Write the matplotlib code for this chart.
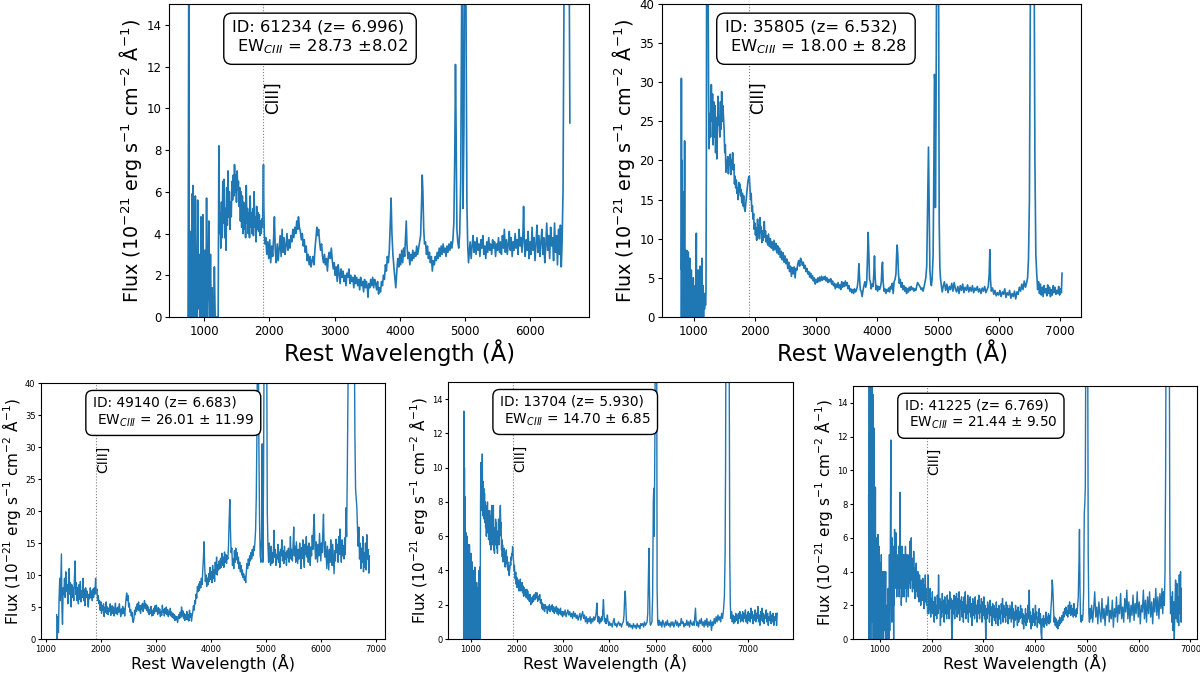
import matplotlib
matplotlib.use('Agg')
import matplotlib.pyplot as plt
import numpy as np

# spectra: (rest wavelength [A], flux [1e-21 erg/s/cm2/A])
spec_61234 = [
    (752, 0.0), (758, 9.7), (763, 16), (768, 4.4), (775, 0.0), (782, 4.1), (790, 0.0), (798, 3.8),
    (806, 0.5), (814, 5.9), (822, 0.0), (830, 6.3), (838, 1.0), (846, 4.0), (855, 0.0), (864, 5.8),
    (873, 2.3), (882, 3.2), (891, 0.0), (900, 5.6), (910, 0.4), (920, 3.0), (930, 0.0), (940, 0.0),
    (950, 4.8), (960, 0.0), (970, 2.0), (980, 4.9), (990, 0.0), (1000, 0.0), (1012, 3.2), (1024, 0.0),
    (1036, 5.7), (1048, 0.0), (1060, 1.5), (1072, 4.6), (1084, 0.0), (1096, 3.0), (1108, 0.0), (1120, 1.4),
    (1132, 0.0), (1144, 0.0), (1156, 2.4), (1168, 0.0), (1180, 0.0), (1192, 0.0), (1204, 0.0), (1214, 0.0),
    (1225, 8.2), (1235, 4.0), (1245, 5.0), (1255, 3.3), (1265, 5.5), (1275, 3.8), (1285, 6.5), (1295, 4.5),
    (1305, 6.6), (1315, 3.8), (1325, 5.2), (1335, 3.2), (1345, 6.2), (1355, 4.4), (1365, 7.0), (1375, 4.8),
    (1385, 6.0), (1395, 4.2), (1405, 5.5), (1415, 4.8), (1425, 6.5), (1435, 5.6), (1445, 6.8), (1455, 5.8),
    (1465, 7.3), (1475, 6.0), (1485, 6.8), (1495, 5.5), (1505, 7.0), (1515, 6.1), (1525, 6.5), (1535, 5.3),
    (1545, 6.2), (1555, 4.6), (1565, 6.0), (1575, 4.3), (1585, 5.8), (1595, 4.0), (1605, 5.5), (1615, 4.2),
    (1625, 5.3), (1635, 3.8), (1645, 6.3), (1655, 4.5), (1665, 5.2), (1675, 4.0), (1685, 5.0), (1695, 3.8),
    (1705, 5.8), (1715, 4.3), (1725, 5.0), (1735, 4.0), (1745, 5.2), (1755, 3.9), (1765, 6.0), (1775, 4.3),
    (1785, 4.8), (1795, 3.6), (1805, 5.3), (1815, 4.2), (1825, 5.0), (1835, 4.1), (1845, 4.9), (1855, 3.9),
    (1865, 4.6), (1875, 4.0), (1885, 4.7), (1895, 4.3), (1903, 5.8), (1909, 7.3), (1915, 5.2), (1922, 4.0),
    (1930, 3.5), (1945, 3.8), (1960, 3.0), (1975, 3.6), (1990, 2.8), (2005, 3.7), (2020, 2.6), (2035, 3.4),
    (2050, 2.9), (2065, 3.8), (2077, 4.8), (2090, 3.2), (2105, 2.6), (2120, 3.5), (2135, 2.7), (2150, 3.3),
    (2165, 3.9), (2180, 2.9), (2195, 4.2), (2210, 3.1), (2225, 3.8), (2240, 3.0), (2255, 3.4), (2270, 4.0),
    (2285, 3.2), (2300, 3.7), (2315, 3.3), (2330, 3.9), (2345, 3.6), (2360, 4.2), (2375, 3.8), (2390, 4.3),
    (2405, 4.0), (2420, 4.6), (2435, 4.2), (2446, 4.8), (2460, 4.3), (2475, 4.1), (2490, 3.7), (2505, 4.0),
    (2520, 3.4), (2535, 3.7), (2550, 3.1), (2565, 3.4), (2580, 2.7), (2595, 3.0), (2610, 2.5), (2625, 2.9),
    (2640, 2.4), (2655, 2.7), (2670, 2.9), (2685, 2.5), (2700, 3.3), (2715, 3.8), (2728, 4.3), (2742, 3.9),
    (2755, 4.2), (2770, 3.6), (2785, 3.2), (2800, 3.5), (2815, 2.9), (2830, 2.6), (2845, 3.0), (2860, 2.5),
    (2875, 2.8), (2890, 2.2), (2905, 2.9), (2920, 3.1), (2935, 2.8), (2950, 3.3), (2965, 2.7), (2980, 2.3),
    (2995, 2.6), (3010, 2.0), (3025, 2.4), (3040, 1.7), (3055, 2.5), (3070, 2.1), (3085, 1.6), (3100, 2.3),
    (3115, 1.9), (3130, 2.2), (3145, 1.7), (3160, 2.0), (3175, 1.5), (3190, 2.1), (3205, 1.9), (3220, 2.3),
    (3235, 1.6), (3250, 2.0), (3265, 1.7), (3280, 1.9), (3295, 1.4), (3310, 2.0), (3325, 1.6), (3340, 1.9),
    (3355, 1.5), (3370, 1.8), (3385, 1.3), (3400, 1.9), (3415, 1.5), (3430, 1.7), (3445, 1.2), (3460, 1.8),
    (3475, 1.4), (3490, 1.7), (3505, 1.3), (3513, 0.95), (3525, 1.6), (3540, 1.4), (3555, 1.8), (3570, 1.5),
    (3585, 1.9), (3600, 1.4), (3615, 1.8), (3630, 1.6), (3645, 1.3), (3660, 1.7), (3675, 1.1), (3690, 1.4),
    (3705, 1.2), (3720, 1.7), (3735, 1.5), (3750, 2.0), (3765, 1.8), (3780, 2.5), (3795, 2.2), (3810, 2.9),
    (3825, 2.6), (3840, 3.2), (3855, 4.5), (3867, 5.7), (3880, 4.0), (3895, 3.0), (3910, 2.4), (3925, 1.9),
    (3939, 1.4), (3955, 2.2), (3970, 2.8), (3985, 2.4), (4000, 3.0), (4015, 2.5), (4030, 3.2), (4045, 2.6),
    (4060, 3.3), (4075, 2.9), (4090, 3.9), (4100, 4.6), (4110, 3.5), (4125, 2.8), (4140, 3.1), (4155, 2.5),
    (4170, 3.0), (4185, 2.7), (4200, 3.2), (4215, 2.8), (4230, 3.1), (4245, 2.9), (4260, 3.4), (4275, 3.0),
    (4290, 3.3), (4305, 3.6), (4320, 3.9), (4335, 5.5), (4345, 6.8), (4355, 6.0), (4368, 4.2), (4380, 3.5),
    (4395, 3.6), (4410, 3.0), (4425, 3.4), (4440, 2.8), (4455, 3.1), (4470, 2.6), (4485, 2.9), (4500, 2.2),
    (4515, 2.7), (4530, 2.5), (4545, 2.9), (4560, 2.7), (4575, 3.1), (4590, 2.8), (4605, 3.3), (4620, 2.9),
    (4635, 3.4), (4650, 3.0), (4665, 3.5), (4680, 3.1), (4695, 3.3), (4710, 2.9), (4725, 3.4), (4740, 3.1),
    (4755, 3.5), (4770, 3.2), (4785, 3.6), (4800, 3.3), (4815, 3.7), (4830, 4.5), (4845, 8.0), (4855, 12.1),
    (4866, 8.5), (4877, 4.2), (4890, 3.6), (4905, 3.3), (4920, 4.0), (4935, 6.5), (4948, 14.0), (4959, 20),
    (4970, 5.2), (4985, 9.0), (4998, 20), (5007, 20), (5018, 14.0), (5030, 5.5), (5042, 3.5), (5055, 2.6),
    (5065, 3.0), (5080, 3.6), (5095, 2.8), (5110, 3.4), (5125, 3.9), (5140, 3.1), (5155, 3.6), (5170, 3.0),
    (5185, 3.8), (5200, 3.2), (5215, 3.5), (5230, 2.9), (5245, 3.7), (5260, 3.3), (5275, 3.9), (5290, 3.0),
    (5305, 3.4), (5320, 2.8), (5335, 3.6), (5350, 3.1), (5365, 3.8), (5380, 3.2), (5395, 3.5), (5410, 3.0),
    (5425, 3.7), (5440, 3.3), (5455, 3.6), (5470, 2.9), (5485, 3.5), (5500, 3.2), (5515, 3.8), (5530, 3.1),
    (5545, 3.6), (5560, 3.0), (5575, 3.9), (5590, 3.3), (5605, 4.2), (5620, 3.1), (5635, 3.7), (5650, 3.0),
    (5665, 3.5), (5680, 4.1), (5695, 3.2), (5710, 3.8), (5725, 2.9), (5740, 3.6), (5755, 3.2), (5770, 4.0),
    (5785, 3.3), (5800, 3.7), (5815, 3.0), (5830, 4.2), (5845, 3.4), (5860, 3.8), (5875, 3.1), (5890, 4.0),
    (5900, 5.3), (5912, 3.5), (5925, 2.9), (5940, 3.7), (5955, 3.2), (5970, 4.1), (5985, 2.8), (6000, 3.6),
    (6015, 3.0), (6030, 4.3), (6045, 3.2), (6060, 3.8), (6075, 2.7), (6090, 3.5), (6105, 4.4), (6120, 3.1),
    (6135, 3.9), (6150, 2.9), (6165, 3.6), (6180, 4.2), (6195, 3.0), (6210, 3.8), (6225, 2.6), (6240, 3.4),
    (6255, 4.5), (6270, 3.2), (6285, 3.9), (6300, 2.8), (6315, 4.3), (6330, 3.4), (6345, 3.8), (6360, 2.7),
    (6375, 4.5), (6390, 3.1), (6405, 3.9), (6420, 2.5), (6435, 4.2), (6450, 3.0), (6465, 4.4), (6478, 2.4),
    (6490, 3.5), (6505, 6.0), (6520, 15.5), (6540, 20), (6560, 20), (6580, 20), (6595, 20), (6610, 9.3),
]

spec_35805 = [
    (790, 0.0), (795, 30.5), (800, 6.0), (806, 20.0), (812, 0.0), (818, 16.0), (824, 2.0), (830, 12.0),
    (836, 0.0), (842, 9.0), (848, 22.5), (854, 3.0), (860, 8.5), (866, 0.0), (872, 7.0), (878, 1.0),
    (884, 8.5), (890, 0.0), (896, 6.0), (902, 2.0), (908, 8.3), (914, 0.0), (920, 5.0), (926, 1.0),
    (932, 7.5), (938, 0.0), (944, 4.0), (950, 0.0), (958, 6.0), (966, 0.0), (974, 3.0), (982, 0.0),
    (990, 5.0), (998, 0.0), (1006, 2.0), (1014, 0.0), (1022, 4.0), (1030, 0.0), (1040, 10.7), (1046, 0.0),
    (1054, 3.0), (1062, 0.0), (1070, 6.0), (1078, 0.0), (1086, 3.0), (1094, 0.0), (1102, 6.5), (1110, 0.0),
    (1118, 2.0), (1126, 0.0), (1134, 7.5), (1142, 0.0), (1150, 4.0), (1158, 0.0), (1166, 2.5), (1174, 1.0),
    (1182, 3.0), (1190, 1.5), (1198, 3.0), (1205, 20.0), (1210, 50), (1220, 50), (1230, 50), (1240, 30.0),
    (1250, 21.5), (1262, 26.0), (1274, 23.0), (1286, 29.7), (1296, 25.0), (1306, 28.5), (1316, 22.0),
    (1326, 27.5), (1336, 23.0), (1346, 27.0), (1356, 21.0), (1366, 25.5), (1376, 20.2), (1386, 24.0),
    (1396, 28.2), (1406, 24.5), (1416, 25.5), (1426, 23.0), (1436, 27.5), (1446, 24.0), (1456, 28.8),
    (1466, 25.0), (1476, 27.0), (1486, 25.5), (1496, 24.0), (1506, 21.0), (1516, 22.0), (1526, 18.5),
    (1536, 20.0), (1546, 19.0), (1556, 20.5), (1566, 18.3), (1576, 20.0), (1586, 19.5), (1596, 20.8),
    (1606, 18.2), (1616, 20.0), (1626, 19.2), (1636, 21.0), (1646, 18.8), (1656, 19.5), (1666, 17.0),
    (1676, 18.0), (1686, 16.5), (1696, 17.5), (1706, 15.8), (1716, 16.5), (1726, 15.0), (1736, 17.2),
    (1746, 16.0), (1756, 17.0), (1766, 15.5), (1776, 16.3), (1786, 14.6), (1796, 15.8), (1806, 14.2),
    (1816, 15.5), (1826, 14.0), (1840, 13.5), (1855, 14.8), (1870, 16.0), (1885, 17.2), (1898, 17.8),
    (1910, 18.0), (1920, 16.5), (1930, 15.0), (1940, 15.8), (1950, 13.5), (1960, 14.2), (1970, 12.5),
    (1980, 13.2), (1990, 11.2), (2000, 12.0), (2010, 10.5), (2020, 11.4), (2030, 9.8), (2045, 12.5),
    (2055, 10.5), (2065, 11.8), (2075, 10.0), (2085, 12.7), (2095, 10.8), (2105, 11.5), (2115, 9.5),
    (2125, 11.0), (2135, 9.8), (2145, 10.5), (2155, 12.2), (2165, 10.2), (2175, 11.0), (2185, 9.6),
    (2195, 10.4), (2210, 9.2), (2225, 10.6), (2240, 9.0), (2255, 10.0), (2270, 8.8), (2285, 9.6),
    (2300, 8.5), (2315, 9.8), (2330, 8.6), (2345, 9.4), (2360, 8.2), (2375, 9.1), (2390, 8.0), (2405, 8.8),
    (2420, 7.6), (2435, 8.4), (2450, 7.3), (2465, 8.2), (2480, 7.0), (2495, 7.8), (2510, 6.8), (2525, 7.4),
    (2540, 6.2), (2555, 7.0), (2570, 5.8), (2585, 6.5), (2600, 5.2), (2615, 6.3), (2630, 5.5), (2645, 6.4),
    (2660, 5.0), (2675, 6.2), (2690, 6.0), (2705, 6.8), (2720, 7.2), (2735, 6.5), (2750, 7.5), (2765, 7.2),
    (2780, 6.6), (2795, 7.0), (2810, 6.2), (2825, 6.6), (2840, 5.8), (2855, 6.2), (2870, 5.5), (2885, 5.8),
    (2900, 5.1), (2915, 5.6), (2930, 4.9), (2945, 5.3), (2960, 4.6), (2975, 5.0), (2990, 4.2), (3005, 4.8),
    (3020, 4.4), (3035, 5.0), (3050, 4.5), (3065, 5.1), (3080, 4.6), (3095, 5.2), (3110, 4.7), (3125, 5.1),
    (3140, 4.8), (3155, 5.2), (3170, 4.6), (3185, 5.0), (3200, 4.4), (3215, 4.8), (3230, 4.5), (3245, 4.9),
    (3260, 4.2), (3275, 4.6), (3290, 4.0), (3305, 4.3), (3320, 3.6), (3335, 4.2), (3350, 3.8), (3365, 4.4),
    (3380, 3.7), (3395, 4.1), (3410, 3.5), (3425, 4.5), (3440, 3.8), (3455, 4.4), (3470, 3.9), (3485, 4.6),
    (3500, 4.0), (3515, 4.4), (3530, 3.6), (3545, 4.0), (3560, 3.3), (3575, 3.6), (3590, 3.1), (3605, 3.5),
    (3620, 3.0), (3635, 3.6), (3650, 3.2), (3665, 3.4), (3680, 3.8), (3695, 4.8), (3707, 6.8), (3718, 5.0),
    (3730, 3.5), (3745, 3.3), (3760, 2.6), (3775, 3.4), (3790, 4.0), (3805, 4.5), (3820, 3.8), (3835, 4.4),
    (3848, 7.5), (3859, 10.8), (3870, 8.2), (3882, 4.8), (3895, 4.5), (3910, 3.6), (3925, 4.2), (3940, 3.9),
    (3952, 5.5), (3963, 7.8), (3974, 5.0), (3988, 3.5), (4000, 4.0), (4015, 3.3), (4030, 3.9), (4045, 3.5),
    (4060, 3.8), (4075, 4.5), (4087, 6.5), (4095, 7.0), (4105, 4.5), (4120, 3.3), (4135, 3.6), (4150, 3.0),
    (4165, 3.5), (4180, 3.3), (4195, 3.7), (4210, 3.2), (4225, 3.9), (4240, 3.6), (4255, 4.3), (4270, 3.0),
    (4285, 4.5), (4300, 4.8), (4315, 5.5), (4325, 7.8), (4335, 9.2), (4345, 8.0), (4357, 5.5), (4370, 4.3),
    (4385, 4.8), (4400, 3.8), (4415, 4.4), (4430, 3.5), (4445, 4.0), (4460, 3.3), (4475, 3.8), (4490, 3.0),
    (4505, 3.6), (4520, 3.2), (4535, 3.8), (4550, 3.4), (4565, 3.9), (4580, 3.5), (4595, 3.7), (4610, 3.3),
    (4625, 3.6), (4640, 3.4), (4655, 3.9), (4670, 4.4), (4685, 4.2), (4700, 4.0), (4715, 3.8), (4730, 3.5),
    (4745, 3.7), (4760, 3.3), (4775, 3.8), (4790, 4.4), (4805, 5.0), (4820, 6.5), (4835, 14.0), (4849, 21.7),
    (4860, 14.0), (4872, 6.0), (4885, 4.5), (4897, 4.0), (4910, 5.0), (4925, 8.0), (4938, 20.0), (4947, 31.0),
    (4955, 30.0), (4962, 14.0), (4972, 25.0), (4985, 50), (5000, 50), (5012, 50), (5025, 12.0), (5035, 6.5),
    (5045, 5.0), (5060, 4.0), (5075, 3.2), (5090, 3.9), (5110, 4.5), (5130, 3.4), (5150, 4.2), (5170, 3.1),
    (5190, 3.9), (5210, 3.5), (5230, 4.3), (5250, 3.3), (5270, 4.4), (5290, 3.6), (5310, 3.2), (5330, 3.9),
    (5350, 3.0), (5370, 4.0), (5390, 3.4), (5410, 4.2), (5430, 3.1), (5450, 3.8), (5470, 3.4), (5490, 4.1),
    (5510, 3.2), (5530, 3.8), (5550, 3.3), (5570, 4.0), (5590, 3.1), (5610, 3.7), (5630, 3.4), (5650, 3.9),
    (5670, 3.2), (5690, 3.6), (5710, 3.0), (5730, 3.7), (5750, 3.3), (5770, 3.9), (5790, 3.1), (5810, 3.5),
    (5830, 3.9), (5845, 5.5), (5856, 8.6), (5866, 4.8), (5880, 3.3), (5900, 3.7), (5920, 2.9), (5940, 3.4),
    (5960, 2.7), (5980, 3.1), (6000, 2.8), (6020, 3.4), (6040, 2.6), (6060, 3.2), (6080, 2.9), (6100, 3.6),
    (6120, 2.5), (6140, 3.1), (6160, 2.8), (6180, 3.4), (6200, 2.4), (6220, 3.0), (6240, 2.6), (6260, 3.3),
    (6280, 2.3), (6300, 3.2), (6320, 2.9), (6340, 3.8), (6360, 3.3), (6380, 4.2), (6400, 3.5), (6420, 4.6),
    (6440, 3.8), (6460, 4.4), (6475, 5.0), (6490, 7.5), (6505, 15.0), (6515, 30.0), (6525, 50), (6560, 50),
    (6580, 50), (6595, 20.0), (6610, 8.0), (6625, 5.5), (6640, 3.5), (6655, 4.5), (6670, 3.0), (6685, 4.2),
    (6700, 2.8), (6715, 3.8), (6730, 2.6), (6745, 4.0), (6760, 3.1), (6775, 3.6), (6790, 2.7), (6805, 4.1),
    (6820, 3.0), (6835, 3.8), (6850, 2.6), (6865, 3.5), (6880, 2.8), (6895, 4.0), (6910, 3.1), (6925, 3.8),
    (6940, 2.9), (6955, 3.4), (6970, 3.0), (6985, 3.9), (7000, 2.8), (7015, 3.6), (7030, 3.1), (7040, 5.6),
]

spec_49140 = [
    (1200, 3.8), (1210, 0.0), (1220, 3.5), (1232, 1.0), (1244, 6.5), (1256, 9.5), (1266, 6.0), (1276, 10.0),
    (1286, 13.3), (1296, 4.5), (1306, 2.3), (1318, 8.0), (1330, 7.0), (1342, 9.5), (1354, 6.5), (1366, 10.5),
    (1378, 7.5), (1390, 8.5), (1402, 5.5), (1414, 9.0), (1426, 11.0), (1438, 7.0), (1450, 8.8), (1462, 5.0),
    (1474, 8.5), (1486, 6.5), (1498, 8.0), (1510, 6.0), (1522, 9.5), (1534, 12.2), (1546, 7.0), (1558, 8.8),
    (1570, 6.0), (1582, 8.0), (1594, 5.5), (1606, 8.5), (1618, 6.2), (1630, 9.0), (1642, 5.8), (1654, 7.5),
    (1666, 6.5), (1678, 9.5), (1690, 6.0), (1702, 7.8), (1714, 5.2), (1726, 8.0), (1738, 6.5), (1750, 7.5),
    (1762, 6.0), (1774, 5.0), (1786, 7.0), (1798, 6.3), (1810, 8.0), (1822, 6.5), (1834, 7.5), (1846, 6.0),
    (1858, 7.8), (1870, 6.5), (1882, 8.0), (1894, 7.0), (1906, 9.5), (1918, 7.2), (1930, 7.8), (1942, 6.0),
    (1954, 6.8), (1966, 5.5), (1978, 6.0), (1990, 4.5), (2002, 5.8), (2014, 4.0), (2026, 5.2), (2038, 4.5),
    (2050, 5.5), (2062, 3.5), (2074, 5.0), (2086, 4.2), (2098, 5.8), (2110, 4.0), (2122, 5.0), (2134, 3.8),
    (2146, 4.8), (2158, 4.3), (2170, 5.5), (2182, 3.7), (2194, 4.6), (2206, 5.2), (2218, 4.0), (2230, 5.0),
    (2242, 3.6), (2254, 4.3), (2266, 5.6), (2278, 4.0), (2290, 4.8), (2302, 3.8), (2314, 5.0), (2326, 4.2),
    (2338, 5.5), (2350, 4.4), (2362, 3.5), (2374, 4.7), (2386, 3.9), (2398, 5.1), (2410, 4.0), (2422, 4.8),
    (2434, 3.6), (2446, 5.0), (2458, 6.2), (2470, 7.2), (2482, 6.0), (2494, 6.8), (2506, 5.0), (2518, 5.6),
    (2530, 4.2), (2542, 4.6), (2554, 3.6), (2566, 4.2), (2578, 3.0), (2590, 2.6), (2602, 3.2), (2614, 4.5),
    (2626, 3.8), (2638, 5.0), (2650, 4.3), (2662, 5.5), (2674, 4.6), (2686, 5.8), (2698, 4.4), (2710, 5.2),
    (2722, 4.0), (2734, 5.3), (2746, 4.6), (2758, 5.6), (2770, 4.3), (2782, 5.0), (2794, 6.0), (2806, 4.8),
    (2818, 5.5), (2830, 4.5), (2842, 5.3), (2854, 4.2), (2866, 5.0), (2878, 3.8), (2890, 4.6), (2902, 4.0),
    (2914, 5.1), (2926, 3.6), (2938, 4.5), (2950, 3.7), (2962, 4.8), (2974, 4.0), (2986, 5.2), (2998, 4.3),
    (3010, 5.3), (3022, 4.5), (3034, 3.8), (3046, 4.9), (3058, 4.0), (3070, 4.7), (3082, 3.5), (3094, 4.3),
    (3106, 3.7), (3118, 5.3), (3130, 4.2), (3142, 4.6), (3154, 3.6), (3166, 4.8), (3178, 4.0), (3190, 5.0),
    (3202, 3.8), (3214, 4.6), (3226, 3.5), (3238, 4.3), (3250, 3.8), (3262, 4.8), (3274, 3.6), (3286, 4.2),
    (3298, 3.4), (3310, 4.0), (3322, 3.2), (3334, 3.8), (3346, 2.9), (3358, 3.6), (3370, 3.0), (3382, 3.5),
    (3394, 2.6), (3406, 3.3), (3418, 3.8), (3430, 3.2), (3442, 4.2), (3454, 3.4), (3466, 5.0), (3478, 3.6),
    (3490, 4.4), (3502, 3.2), (3514, 4.0), (3526, 2.9), (3538, 3.8), (3550, 3.1), (3562, 4.3), (3574, 3.0),
    (3586, 3.8), (3598, 2.8), (3610, 4.5), (3622, 3.4), (3634, 4.0), (3646, 2.8), (3658, 3.6), (3670, 4.2),
    (3682, 5.2), (3694, 4.5), (3706, 6.0), (3718, 5.5), (3730, 7.0), (3742, 6.4), (3754, 8.2), (3766, 7.4),
    (3778, 8.6), (3790, 7.6), (3802, 9.0), (3814, 8.0), (3826, 9.5), (3838, 8.5), (3850, 10.5), (3862, 12.5),
    (3874, 15.2), (3886, 11.5), (3898, 9.0), (3910, 10.0), (3922, 8.2), (3934, 9.5), (3946, 8.5), (3958, 10.2),
    (3970, 9.0), (3982, 11.2), (3994, 9.3), (4006, 10.5), (4018, 8.8), (4030, 11.5), (4042, 9.5), (4054, 10.8),
    (4066, 9.0), (4078, 12.0), (4090, 10.2), (4102, 12.8), (4114, 10.0), (4126, 11.6), (4138, 10.8),
    (4150, 12.2), (4162, 11.0), (4174, 12.6), (4186, 11.2), (4198, 13.4), (4210, 11.5), (4222, 12.8),
    (4234, 11.2), (4246, 13.6), (4258, 12.0), (4270, 13.2), (4282, 11.8), (4294, 13.0), (4306, 12.5),
    (4318, 14.5), (4330, 18.5), (4342, 21.8), (4354, 17.0), (4366, 13.5), (4378, 14.2), (4390, 11.5),
    (4402, 12.5), (4414, 11.0), (4426, 13.8), (4438, 12.0), (4450, 14.2), (4462, 12.4), (4474, 13.5),
    (4486, 11.8), (4498, 12.8), (4510, 11.0), (4522, 12.0), (4534, 10.5), (4546, 11.5), (4558, 10.0),
    (4570, 10.8), (4582, 9.6), (4594, 10.2), (4606, 9.2), (4618, 9.8), (4630, 8.8), (4642, 10.5),
    (4654, 11.8), (4666, 11.0), (4678, 12.5), (4690, 11.5), (4702, 13.0), (4714, 12.2), (4726, 13.5),
    (4738, 12.5), (4750, 14.0), (4762, 13.0), (4774, 14.5), (4786, 13.8), (4798, 15.2), (4810, 17.0),
    (4822, 22.0), (4834, 32.0), (4846, 50), (4858, 50), (4870, 30.0), (4882, 18.0), (4894, 13.0),
    (4906, 12.0), (4918, 16.0), (4930, 30.5), (4942, 12.0), (4954, 25.0), (4966, 50), (4990, 50),
    (5010, 50), (5022, 20.0), (5034, 14.5), (5046, 12.0), (5058, 15.0), (5070, 12.5), (5082, 11.5),
    (5094, 14.5), (5106, 11.8), (5118, 13.5), (5130, 12.0), (5142, 17.0), (5154, 12.8), (5166, 14.0),
    (5178, 11.5), (5190, 13.2), (5202, 12.5), (5214, 14.8), (5226, 12.0), (5238, 13.6), (5250, 11.2),
    (5262, 14.0), (5274, 13.0), (5286, 15.5), (5298, 12.2), (5310, 13.8), (5322, 11.8), (5334, 14.5),
    (5346, 12.5), (5358, 13.5), (5370, 11.5), (5382, 13.8), (5394, 12.8), (5406, 14.2), (5418, 12.0),
    (5430, 13.0), (5442, 16.0), (5454, 12.5), (5466, 14.0), (5478, 12.2), (5490, 14.6), (5502, 17.5),
    (5514, 13.0), (5526, 14.5), (5538, 12.0), (5550, 15.2), (5562, 13.5), (5574, 11.8), (5586, 14.0),
    (5598, 12.5), (5610, 15.0), (5622, 13.2), (5634, 11.0), (5646, 14.3), (5658, 12.6), (5670, 15.5),
    (5682, 13.0), (5694, 11.2), (5706, 14.8), (5718, 13.2), (5730, 16.0), (5742, 12.8), (5754, 14.5),
    (5766, 12.0), (5778, 15.0), (5790, 13.6), (5802, 11.5), (5814, 14.4), (5826, 13.0), (5838, 16.2),
    (5850, 14.0), (5862, 17.5), (5874, 19.5), (5886, 14.5), (5898, 12.5), (5910, 15.2), (5922, 13.5),
    (5934, 12.0), (5946, 14.8), (5958, 13.0), (5970, 16.5), (5982, 14.2), (5994, 12.2), (6006, 15.0),
    (6018, 13.5), (6030, 16.8), (6042, 19.5), (6054, 14.0), (6066, 12.8), (6078, 15.2), (6090, 13.0),
    (6102, 11.0), (6114, 14.5), (6126, 12.5), (6138, 10.8), (6150, 14.0), (6162, 12.0), (6174, 15.5),
    (6186, 13.0), (6198, 11.5), (6210, 14.8), (6222, 12.5), (6234, 10.2), (6246, 13.8), (6258, 12.2),
    (6270, 15.6), (6282, 13.5), (6294, 14.8), (6306, 12.0), (6318, 16.0), (6330, 13.2), (6342, 17.2),
    (6354, 14.0), (6366, 12.0), (6378, 15.5), (6390, 13.0), (6402, 14.6), (6414, 12.5), (6426, 15.8),
    (6438, 13.2), (6450, 20.5), (6462, 16.0), (6474, 26.0), (6486, 38.0), (6498, 50), (6550, 50),
    (6600, 50), (6612, 32.0), (6624, 23.5), (6636, 22.0), (6648, 20.5), (6660, 17.0), (6672, 14.5),
    (6684, 17.5), (6696, 12.5), (6708, 15.0), (6720, 11.0), (6732, 14.2), (6744, 12.0), (6756, 16.0),
    (6768, 10.5), (6780, 13.5), (6792, 11.2), (6804, 15.0), (6816, 10.8), (6828, 16.3), (6840, 12.5),
    (6852, 14.0), (6864, 10.3), (6876, 13.0),
]

spec_13704 = [
    (842, 0.0), (848, 13.3), (854, 4.8), (860, 10.0), (866, 0.0), (872, 8.3), (878, 3.0), (884, 4.0),
    (890, 0.0), (896, 6.2), (902, 1.0), (908, 5.5), (914, 0.0), (920, 6.0), (926, 2.0), (932, 4.5),
    (938, 0.0), (944, 5.5), (950, 1.5), (956, 4.0), (962, 0.0), (968, 5.5), (974, 2.5), (980, 4.8),
    (986, 0.0), (992, 3.5), (998, 1.0), (1004, 5.0), (1010, 0.5), (1016, 3.8), (1022, 0.0), (1028, 4.5),
    (1034, 2.0), (1040, 3.2), (1046, 0.0), (1052, 4.0), (1058, 1.5), (1064, 3.5), (1070, 0.0), (1076, 3.0),
    (1082, 2.0), (1088, 4.2), (1094, 0.0), (1100, 3.0), (1106, 1.0), (1112, 2.8), (1118, 0.0), (1124, 3.3),
    (1130, 1.8), (1136, 3.0), (1142, 0.5), (1148, 2.5), (1154, 0.0), (1160, 3.0), (1166, 1.5), (1172, 0.0),
    (1178, 4.0), (1184, 0.5), (1190, 4.2), (1196, 0.0), (1202, 3.0), (1208, 8.0), (1216, 10.3), (1222, 7.5),
    (1230, 9.8), (1238, 8.5), (1246, 10.8), (1254, 7.2), (1262, 9.2), (1270, 8.0), (1278, 8.8), (1286, 7.0),
    (1294, 8.5), (1302, 6.8), (1310, 8.0), (1318, 6.5), (1326, 7.8), (1334, 6.0), (1342, 7.3), (1350, 6.5),
    (1358, 8.0), (1366, 6.2), (1374, 7.5), (1382, 5.8), (1390, 7.0), (1398, 6.0), (1406, 7.5), (1414, 5.5),
    (1422, 6.8), (1430, 5.2), (1438, 7.2), (1446, 6.0), (1454, 7.8), (1462, 5.5), (1470, 6.5), (1478, 5.8),
    (1486, 7.8), (1494, 5.2), (1502, 6.0), (1510, 5.0), (1518, 6.5), (1526, 5.5), (1534, 7.0), (1542, 5.8),
    (1550, 6.8), (1558, 5.3), (1566, 6.3), (1574, 5.0), (1582, 6.0), (1590, 5.6), (1598, 7.0), (1606, 5.5),
    (1614, 6.5), (1622, 6.0), (1630, 7.5), (1638, 7.8), (1646, 6.5), (1654, 6.8), (1662, 5.2), (1670, 5.8),
    (1678, 4.8), (1686, 5.5), (1694, 4.5), (1702, 5.2), (1710, 4.6), (1718, 5.3), (1726, 4.5), (1734, 5.0),
    (1742, 4.2), (1750, 5.0), (1758, 4.6), (1766, 5.2), (1774, 4.4), (1782, 4.8), (1790, 4.2), (1798, 4.5),
    (1806, 4.0), (1814, 4.3), (1822, 3.8), (1830, 3.7), (1838, 4.0), (1846, 4.2), (1854, 4.5), (1862, 4.3),
    (1870, 4.8), (1878, 4.6), (1886, 5.0), (1894, 4.9), (1902, 5.4), (1910, 5.2), (1918, 4.8), (1926, 4.5),
    (1934, 4.0), (1942, 4.3), (1950, 3.8), (1960, 3.5), (1970, 3.9), (1980, 3.2), (1990, 3.6), (2000, 3.0),
    (2010, 3.5), (2020, 3.1), (2030, 3.4), (2040, 2.8), (2050, 3.3), (2060, 3.0), (2070, 3.5), (2080, 2.8),
    (2090, 3.2), (2100, 2.9), (2110, 3.3), (2120, 2.7), (2130, 3.1), (2140, 2.5), (2150, 3.0), (2160, 2.6),
    (2170, 2.9), (2180, 2.5), (2190, 2.8), (2200, 2.4), (2210, 2.9), (2220, 2.5), (2230, 2.8), (2240, 2.3),
    (2250, 2.6), (2265, 2.2), (2280, 2.6), (2295, 2.0), (2310, 2.4), (2325, 2.1), (2340, 2.5), (2355, 2.2),
    (2370, 2.6), (2385, 2.3), (2400, 2.7), (2415, 2.4), (2430, 2.7), (2445, 2.2), (2460, 2.5), (2475, 2.3),
    (2490, 2.6), (2505, 2.1), (2520, 2.3), (2535, 1.8), (2550, 2.1), (2565, 1.7), (2580, 2.0), (2595, 1.6),
    (2610, 2.0), (2625, 1.8), (2640, 1.9), (2655, 1.5), (2670, 1.9), (2685, 1.7), (2700, 2.0), (2715, 1.6),
    (2730, 1.9), (2745, 1.7), (2760, 2.0), (2775, 1.6), (2790, 1.9), (2805, 1.5), (2820, 1.8), (2835, 1.6),
    (2850, 1.9), (2865, 1.5), (2880, 1.8), (2895, 1.4), (2910, 1.7), (2925, 1.5), (2940, 1.8), (2955, 1.4),
    (2970, 1.6), (2985, 1.3), (3000, 1.6), (3020, 1.4), (3040, 1.7), (3060, 1.3), (3080, 1.5), (3100, 1.7),
    (3120, 1.4), (3140, 1.6), (3160, 1.3), (3180, 1.5), (3200, 1.2), (3220, 1.6), (3240, 1.3), (3260, 1.5),
    (3280, 1.2), (3300, 1.4), (3320, 1.1), (3340, 1.3), (3360, 1.5), (3380, 1.1), (3400, 1.4), (3420, 1.6),
    (3440, 1.2), (3460, 1.4), (3480, 1.0), (3500, 1.3), (3520, 0.9), (3540, 1.2), (3560, 1.0), (3580, 1.3),
    (3600, 0.9), (3620, 1.2), (3640, 1.0), (3660, 1.3), (3680, 1.1), (3700, 1.3), (3715, 1.6), (3727, 2.1),
    (3740, 1.4), (3755, 1.0), (3770, 1.3), (3785, 0.9), (3800, 1.2), (3815, 1.0), (3830, 1.3), (3845, 1.1),
    (3860, 1.8), (3870, 2.3), (3882, 1.5), (3895, 1.0), (3910, 1.2), (3925, 0.9), (3940, 1.1), (3955, 1.4),
    (3970, 1.0), (3985, 0.8), (4000, 1.0), (4020, 0.8), (4040, 0.9), (4060, 0.7), (4080, 1.0), (4100, 1.2),
    (4120, 0.8), (4140, 0.9), (4160, 0.7), (4180, 0.9), (4200, 1.0), (4220, 0.8), (4240, 0.9), (4260, 0.7),
    (4280, 0.9), (4300, 1.0), (4315, 1.4), (4330, 2.4), (4342, 2.8), (4355, 2.0), (4368, 1.0), (4380, 0.8),
    (4400, 1.0), (4420, 0.7), (4440, 0.9), (4460, 0.7), (4480, 0.8), (4500, 0.6), (4520, 0.9), (4540, 0.7),
    (4560, 0.8), (4580, 0.6), (4600, 0.9), (4620, 0.7), (4640, 0.8), (4660, 0.6), (4680, 0.9), (4700, 0.8),
    (4720, 0.9), (4740, 0.7), (4760, 1.0), (4780, 0.8), (4800, 0.9), (4815, 1.0), (4830, 1.5), (4845, 4.0),
    (4855, 5.3), (4866, 3.0), (4878, 1.0), (4890, 0.8), (4905, 0.9), (4920, 1.0), (4935, 2.5), (4950, 8.0),
    (4960, 8.8), (4970, 6.0), (4985, 12.0), (4995, 20), (5010, 20), (5022, 20), (5032, 3.0), (5045, 1.0),
    (5060, 0.8), (5075, 1.1), (5095, 0.8), (5115, 1.0), (5135, 0.7), (5155, 1.1), (5175, 0.9), (5195, 0.7),
    (5215, 1.0), (5235, 0.8), (5255, 1.1), (5275, 0.8), (5295, 0.9), (5315, 0.7), (5335, 1.0), (5355, 0.8),
    (5375, 1.0), (5395, 0.7), (5415, 0.9), (5435, 1.1), (5455, 0.8), (5475, 1.0), (5495, 0.7), (5515, 0.9),
    (5535, 0.8), (5555, 1.2), (5575, 0.9), (5595, 1.0), (5615, 0.7), (5635, 0.9), (5655, 0.8), (5675, 1.1),
    (5695, 0.8), (5715, 1.0), (5735, 0.7), (5755, 1.1), (5775, 0.9), (5795, 0.8), (5815, 1.0), (5835, 0.8),
    (5850, 1.3), (5863, 1.8), (5876, 1.1), (5890, 0.8), (5910, 1.0), (5930, 0.7), (5950, 1.1), (5970, 0.9),
    (5990, 1.2), (6010, 0.8), (6030, 1.0), (6050, 0.7), (6070, 1.1), (6090, 0.8), (6110, 1.2), (6130, 0.7),
    (6150, 1.0), (6170, 0.8), (6190, 1.1), (6210, 0.5), (6230, 1.0), (6250, 0.8), (6270, 1.2), (6290, 0.9),
    (6310, 1.3), (6330, 1.0), (6350, 1.4), (6370, 1.1), (6390, 1.3), (6410, 1.0), (6430, 1.5), (6450, 1.2),
    (6470, 1.7), (6490, 2.5), (6505, 5.0), (6515, 10.0), (6525, 20), (6560, 20), (6590, 20), (6605, 5.0),
    (6618, 2.0), (6632, 1.2), (6645, 1.6), (6660, 1.0), (6675, 1.4), (6690, 0.9), (6705, 1.3), (6720, 1.0),
    (6735, 1.5), (6750, 1.1), (6765, 1.4), (6780, 0.9), (6795, 1.5), (6810, 1.2), (6825, 1.6), (6840, 1.0),
    (6855, 1.4), (6870, 1.1), (6885, 1.6), (6900, 1.0), (6915, 1.5), (6930, 1.2), (6945, 1.7), (6960, 1.0),
    (6975, 1.4), (6990, 0.9), (7005, 1.6), (7020, 1.1), (7035, 1.5), (7050, 1.0), (7065, 1.8), (7080, 1.2),
    (7095, 1.6), (7110, 0.9), (7125, 1.4), (7140, 1.1), (7155, 1.7), (7170, 1.0), (7185, 1.5), (7200, 1.2),
    (7215, 1.9), (7230, 1.0), (7245, 1.4), (7260, 0.8), (7275, 1.6), (7290, 1.1), (7305, 1.8), (7320, 1.0),
    (7335, 1.5), (7350, 0.9), (7365, 1.4), (7380, 1.2), (7395, 1.7), (7410, 1.0), (7425, 1.5), (7440, 0.8),
    (7455, 1.3), (7470, 1.1), (7485, 1.6), (7500, 0.9), (7515, 1.4), (7530, 1.0), (7545, 1.5), (7560, 0.8),
    (7575, 1.3), (7590, 1.1), (7605, 1.5), (7620, 0.8), (7635, 1.5),
]

spec_41225 = [
    (780, 8.5), (786, 0.0), (792, 20), (798, 5.0), (804, 20), (810, 2.0), (816, 20), (822, 0.0),
    (828, 20), (834, 3.0), (840, 20), (846, 1.0), (852, 15.0), (858, 4.0), (864, 14.5), (870, 0.0),
    (876, 10.0), (882, 2.0), (888, 12.5), (894, 0.0), (900, 8.8), (906, 3.0), (912, 9.0), (918, 0.0),
    (924, 6.0), (930, 1.5), (936, 5.2), (942, 0.0), (948, 4.0), (954, 1.0), (960, 6.2), (966, 0.0),
    (972, 3.5), (978, 2.0), (984, 5.5), (990, 0.0), (996, 3.0), (1002, 1.0), (1008, 4.5), (1014, 0.0),
    (1020, 2.5), (1026, 5.0), (1032, 0.5), (1038, 3.5), (1044, 0.0), (1050, 4.0), (1056, 1.0), (1062, 3.0),
    (1068, 0.0), (1074, 2.5), (1080, 4.0), (1086, 0.5), (1092, 3.0), (1098, 1.0), (1104, 2.0), (1110, 4.0),
    (1116, 0.0), (1122, 1.5), (1128, 0.0), (1134, 2.0), (1140, 0.0), (1146, 1.0), (1152, 0.0), (1158, 3.0),
    (1164, 0.5), (1170, 2.5), (1176, 0.0), (1182, 5.0), (1188, 0.5), (1196, 3.0), (1204, 7.5), (1210, 11.8),
    (1216, 2.0), (1222, 5.5), (1228, 1.0), (1234, 6.0), (1240, 2.5), (1246, 5.0), (1252, 1.5), (1258, 4.5),
    (1264, 0.0), (1270, 5.5), (1276, 2.0), (1282, 6.5), (1288, 3.0), (1294, 5.0), (1300, 3.5), (1308, 6.3),
    (1316, 4.5), (1324, 2.5), (1332, 4.5), (1340, 3.0), (1348, 5.0), (1356, 3.5), (1364, 5.5), (1372, 2.5),
    (1380, 4.5), (1388, 8.7), (1396, 3.0), (1404, 5.5), (1412, 2.0), (1420, 4.0), (1428, 5.5), (1436, 2.5),
    (1444, 4.8), (1452, 3.2), (1460, 5.0), (1468, 2.5), (1476, 4.2), (1484, 3.0), (1492, 5.5), (1500, 4.0),
    (1508, 2.2), (1516, 3.8), (1524, 5.0), (1532, 3.0), (1540, 4.5), (1548, 2.5), (1556, 4.0), (1564, 5.0),
    (1572, 3.3), (1580, 5.8), (1588, 3.0), (1596, 4.5), (1604, 6.0), (1612, 3.5), (1620, 4.8), (1628, 2.8),
    (1636, 4.6), (1644, 3.5), (1652, 5.2), (1660, 3.0), (1668, 4.2), (1676, 2.4), (1684, 3.8), (1692, 2.8),
    (1700, 4.5), (1708, 3.2), (1716, 3.8), (1724, 2.5), (1732, 4.0), (1740, 3.0), (1748, 3.5), (1756, 2.2),
    (1764, 3.8), (1772, 2.8), (1780, 3.2), (1788, 2.0), (1796, 3.5), (1804, 2.6), (1812, 3.3), (1820, 2.3),
    (1828, 3.6), (1836, 2.5), (1844, 3.0), (1852, 1.8), (1860, 3.2), (1868, 2.4), (1876, 3.8), (1884, 2.2),
    (1892, 3.0), (1900, 2.0), (1910, 2.8), (1920, 1.5), (1930, 3.8), (1940, 1.5), (1950, 2.5), (1960, 1.8),
    (1970, 3.0), (1980, 1.3), (1990, 2.4), (2000, 1.6), (2012, 2.8), (2024, 1.5), (2036, 2.2), (2048, 1.0),
    (2060, 2.5), (2072, 1.4), (2084, 2.0), (2096, 1.2), (2108, 2.6), (2120, 1.5), (2132, 3.8), (2144, 1.8),
    (2156, 2.4), (2168, 0.8), (2180, 2.2), (2192, 1.3), (2204, 2.7), (2216, 1.6), (2228, 2.3), (2240, 1.0),
    (2252, 2.5), (2264, 1.5), (2276, 2.0), (2288, 1.2), (2300, 2.6), (2312, 1.5), (2324, 2.3), (2336, 1.2),
    (2348, 2.8), (2360, 1.8), (2372, 2.4), (2384, 0.8), (2396, 0.0), (2408, 2.3), (2420, 1.5), (2432, 2.6),
    (2444, 1.2), (2456, 2.5), (2468, 1.8), (2480, 2.7), (2492, 1.3), (2504, 2.4), (2516, 1.5), (2528, 2.8),
    (2540, 1.1), (2552, 2.3), (2564, 1.8), (2576, 2.5), (2588, 1.3), (2600, 2.2), (2612, 1.0), (2624, 2.5),
    (2636, 1.6), (2648, 2.8), (2660, 1.2), (2672, 2.0), (2684, 1.5), (2696, 2.6), (2708, 1.0), (2720, 2.3),
    (2732, 1.6), (2744, 2.5), (2756, 1.3), (2768, 2.1), (2780, 0.8), (2792, 2.4), (2804, 1.4), (2816, 2.2),
    (2828, 1.2), (2840, 2.5), (2852, 1.5), (2864, 2.0), (2876, 1.0), (2888, 2.3), (2900, 1.5), (2912, 2.6),
    (2924, 1.2), (2936, 2.0), (2948, 1.6), (2960, 2.4), (2972, 1.0), (2984, 2.2), (2996, 1.4), (3008, 2.5),
    (3020, 1.2), (3032, 2.0), (3044, 0.0), (3056, 1.8), (3068, 1.2), (3080, 2.2), (3092, 1.5), (3104, 2.0),
    (3116, 1.0), (3128, 2.3), (3140, 1.4), (3152, 1.9), (3164, 0.8), (3176, 2.1), (3188, 1.3), (3200, 2.0),
    (3212, 1.1), (3224, 1.8), (3236, 0.9), (3248, 2.2), (3260, 1.3), (3272, 1.8), (3284, 0.8), (3296, 2.0),
    (3308, 1.2), (3320, 1.7), (3332, 0.9), (3344, 2.1), (3356, 1.5), (3368, 2.4), (3380, 1.0), (3392, 2.0),
    (3404, 1.3), (3416, 1.8), (3428, 1.0), (3440, 2.2), (3452, 1.4), (3464, 2.0), (3476, 0.9), (3488, 1.8),
    (3500, 1.2), (3512, 2.0), (3524, 1.5), (3536, 1.0), (3548, 2.2), (3560, 1.2), (3572, 1.8), (3584, 0.7),
    (3596, 1.6), (3608, 1.1), (3620, 2.0), (3632, 1.2), (3644, 1.7), (3656, 0.8), (3668, 1.9), (3680, 1.0),
    (3692, 1.6), (3704, 1.2), (3716, 2.0), (3728, 1.3), (3740, 1.8), (3752, 0.9), (3764, 1.5), (3776, 0.6),
    (3788, 1.4), (3800, 1.0), (3812, 1.8), (3824, 0.8), (3836, 1.5), (3848, 1.0), (3860, 2.0), (3872, 1.2),
    (3884, 2.9), (3896, 1.0), (3908, 1.6), (3920, 0.6), (3932, 1.4), (3944, 0.8), (3956, 1.8), (3968, 1.0),
    (3980, 1.5), (3992, 0.8), (4004, 2.0), (4016, 1.2), (4028, 1.6), (4040, 0.7), (4052, 1.3), (4064, 1.0),
    (4076, 1.8), (4088, 0.9), (4100, 1.5), (4112, 0.4), (4124, 0.0), (4136, 1.2), (4148, 0.8), (4160, 1.4),
    (4172, 0.7), (4184, 1.2), (4196, 0.9), (4208, 1.6), (4220, 0.8), (4232, 1.3), (4244, 1.0), (4256, 1.5),
    (4268, 0.9), (4280, 1.4), (4292, 1.0), (4304, 1.8), (4316, 2.4), (4328, 3.5), (4340, 3.0), (4352, 2.0),
    (4364, 1.0), (4376, 1.3), (4388, 0.8), (4400, 1.2), (4412, 0.7), (4424, 1.0), (4436, 0.6), (4448, 1.1),
    (4460, 0.8), (4472, 1.3), (4484, 0.9), (4496, 1.2), (4508, 1.0), (4520, 1.4), (4532, 1.1), (4544, 1.6),
    (4556, 1.3), (4568, 1.8), (4580, 1.5), (4592, 1.9), (4604, 1.4), (4616, 1.7), (4628, 1.3), (4640, 2.0),
    (4652, 1.5), (4664, 2.2), (4676, 1.6), (4688, 1.4), (4700, 2.0), (4712, 1.5), (4724, 1.8), (4736, 1.3),
    (4748, 2.1), (4760, 1.4), (4772, 1.7), (4784, 1.3), (4796, 1.8), (4808, 1.5), (4820, 2.0), (4832, 2.5),
    (4845, 4.5), (4855, 6.5), (4865, 3.0), (4876, 1.2), (4888, 1.0), (4900, 1.4), (4912, 1.1), (4924, 1.5),
    (4936, 2.8), (4948, 7.5), (4958, 8.0), (4968, 9.0), (4980, 20), (5000, 20), (5012, 20), (5024, 5.0),
    (5036, 1.5), (5048, 1.0), (5060, 1.8), (5070, 1.2), (5090, 2.0), (5110, 1.0), (5130, 1.8), (5150, 2.8),
    (5170, 1.3), (5190, 1.9), (5210, 0.9), (5230, 2.2), (5250, 1.5), (5270, 1.0), (5290, 2.4), (5310, 1.2),
    (5330, 1.8), (5350, 0.8), (5370, 2.0), (5390, 1.4), (5410, 2.5), (5430, 1.0), (5450, 1.7), (5470, 1.2),
    (5490, 2.3), (5510, 0.7), (5530, 1.8), (5550, 1.3), (5570, 2.5), (5590, 1.0), (5610, 2.0), (5630, 1.5),
    (5650, 2.7), (5670, 1.2), (5690, 1.9), (5710, 1.0), (5730, 2.4), (5750, 1.6), (5770, 2.9), (5790, 1.2),
    (5810, 2.2), (5830, 1.0), (5850, 2.0), (5870, 1.4), (5890, 2.6), (5910, 1.1), (5930, 2.1), (5950, 1.5),
    (5970, 2.8), (5990, 1.3), (6010, 2.2), (6030, 0.9), (6050, 2.0), (6070, 1.6), (6090, 2.9), (6110, 1.2),
    (6130, 2.3), (6150, 1.0), (6170, 2.5), (6190, 1.5), (6210, 2.8), (6230, 1.3), (6250, 2.2), (6270, 0.9),
    (6290, 2.4), (6310, 1.6), (6330, 3.0), (6350, 1.4), (6370, 2.5), (6390, 1.2), (6410, 2.7), (6430, 1.8),
    (6450, 3.0), (6465, 1.5), (6480, 2.8), (6495, 2.0), (6508, 4.0), (6520, 10.0), (6530, 20), (6560, 20),
    (6590, 20), (6602, 4.0), (6615, 1.5), (6628, 2.5), (6640, 1.0), (6652, 2.8), (6664, 0.5), (6676, 2.2),
    (6688, 0.0), (6700, 2.0), (6712, 3.5), (6724, 1.2), (6736, 3.3), (6748, 1.0), (6760, 2.5), (6772, 0.8),
    (6784, 3.8), (6796, 1.5), (6808, 4.0), (6818, 1.0), (6824, 3.0),
]

ids = ['61234', '35805', '49140', '13704', '41225']
redshifts = ['6.996', '6.532', '6.683', '5.930', '6.769']
ew_text = ['28.73 \u00b18.02', '18.00 \u00b1 8.28', '26.01 \u00b1 11.99', '14.70 \u00b1 6.85', '21.44 \u00b1 9.50']
ymax = [15, 40, 40, 15, 15]
spectra = [spec_61234, spec_35805, spec_49140, spec_13704, spec_41225]

ciii_wave = 1909

# axes rectangles in figure fraction
rects = [
    [0.1408, 0.5318, 0.3500, 0.4623],
    [0.5517, 0.5318, 0.3492, 0.4623],
    [0.0342, 0.0561, 0.2867, 0.3781],
    [0.3733, 0.0561, 0.2875, 0.3796],
    [0.7108, 0.0561, 0.2867, 0.3737],
]
big = [True, True, False, False, False]
# where the x label sits (axes fraction) - the panels were pasted from separate figures
xlabel_pos = [(0.55, -0.07), (0.55, -0.07), None, (0.455, None), None]

fig = plt.figure(figsize=(12, 6.77), dpi=100)

for i in range(5):
    ax = fig.add_axes(rects[i])
    data = np.array(spectra[i]).T
    if big[i]:
        xl_fs, yl_fs, tick_fs, box_fs, line_fs, lw = 16.3, 13.8, 8.5, 11.8, 12, 1.2
        tlen, tpad, lpad = 3.0, 2.5, 1
    else:
        xl_fs, yl_fs, tick_fs, box_fs, line_fs, lw = 11.5, 11, 6, 9.8, 10, 1.0
        tlen, tpad, lpad = 2.5, 1.5, 0.5
    ax.plot(data[0], data[1], color='#1f77b4', lw=lw)
    ax.set_ylim(0, ymax[i])
    ax.axvline(ciii_wave, color='grey', ls=':', lw=0.8)
    ax.text(ciii_wave, 0.65 * ymax[i], 'CIII]', rotation=90, ha='left', va='bottom',
            fontsize=line_fs)
    txt = 'ID: %s (z= %s)\n EW$_{CIII}$ = %s' % (ids[i], redshifts[i], ew_text[i])
    ax.text(0.15, 0.95, txt, transform=ax.transAxes, ha='left', va='top', fontsize=box_fs,
            bbox=dict(boxstyle='round,pad=0.5', facecolor='white', edgecolor='black'))
    ax.set_xlabel('Rest Wavelength (\u00c5)', fontsize=xl_fs, labelpad=lpad)
    ax.set_ylabel('Flux (10$^{-21}$ erg s$^{-1}$ cm$^{-2}$ \u00c5$^{-1}$)', fontsize=yl_fs,
                  labelpad=lpad + 1)
    ax.tick_params(labelsize=tick_fs, length=tlen, pad=tpad)
    pos = xlabel_pos[i]
    if pos is not None:
        if pos[1] is None:
            ax.xaxis.label.set_x(pos[0])
        else:
            ax.xaxis.set_label_coords(pos[0], pos[1])

fig.savefig('out.png', dpi=100)
